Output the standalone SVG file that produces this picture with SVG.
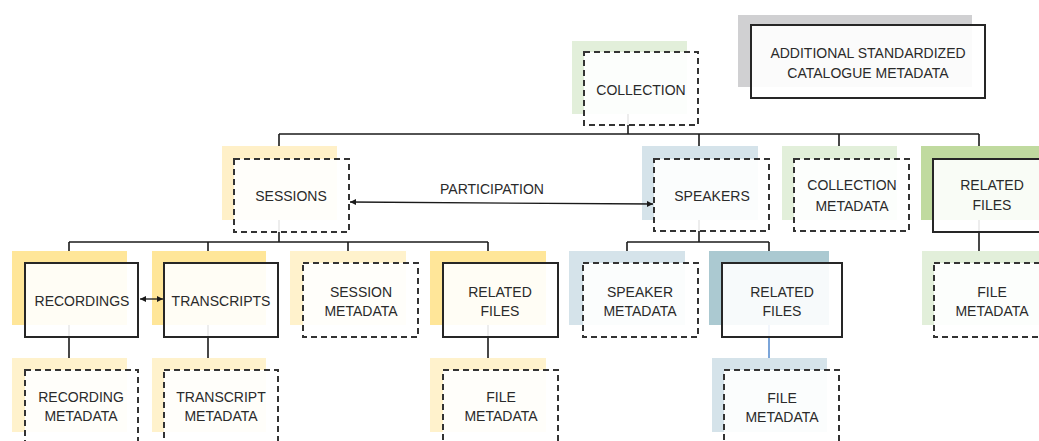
<svg xmlns="http://www.w3.org/2000/svg" width="1039" height="441" viewBox="0 0 1039 441">
  <style>
    .bg{fill:#ffffff}
    .line{fill:none;stroke:#1a1a1a;stroke-width:1.6}
    .blue{fill:none;stroke:#5b8fd0;stroke-width:1.6}
    .box{fill:#ffffff;fill-opacity:0.9;stroke:#262626;stroke-width:2}
    .dash{fill:#ffffff;fill-opacity:0.9;stroke:#333333;stroke-width:2;stroke-dasharray:6 4}
    .lbl{font-family:"Liberation Sans",Arial,sans-serif;font-size:14px;fill:#2a2a2a;text-anchor:middle}
    .y1{fill:#ffe699}
    .y2{fill:#fff2cc}
    .b1{fill:#d5e3ea}
    .b2{fill:#abc9d1}
    .g1{fill:#e2efda}
    .g2{fill:#c0da9f}
    .gr{fill:#d0d0d2}
  </style>
  <defs>
    <marker id="ah" viewBox="0 0 8 8" refX="8" refY="4" markerWidth="6" markerHeight="6" markerUnits="userSpaceOnUse" orient="auto-start-reverse">
      <path d="M0,0 L8,4 L0,8 Z" fill="#1a1a1a"/>
    </marker>
  </defs>
  <rect class="bg" x="0" y="0" width="1039" height="441"/>

  <g id="connectors">
    <path class="line" d="M628,77 V134"/>
    <path class="line" d="M279,134 H979"/>
    <path class="line" d="M279,134 V242"/>
    <path class="line" d="M699,134 V242"/>
    <path class="line" d="M839,134 V183"/>
    <path class="line" d="M979,134 V288"/>
    <path class="line" d="M69,242 H488"/>
    <path class="line" d="M69,242 V395"/>
    <path class="line" d="M208,242 V395"/>
    <path class="line" d="M348,242 V288"/>
    <path class="line" d="M488,242 V395"/>
    <path class="line" d="M627,242 H769"/>
    <path class="line" d="M627,242 V288"/>
    <path class="line" d="M769,242 V300"/>
    <path class="blue" d="M769,300 V395"/>
  </g>

  <g id="additional">
    <rect class="gr" x="738" y="15" width="234" height="72"/>
    <rect class="box" x="751" y="25" width="234" height="73"/>
    <text class="lbl" x="868" y="58">ADDITIONAL STANDARDIZED</text>
    <text class="lbl" x="868" y="78">CATALOGUE METADATA</text>
  </g>

  <g id="collection">
    <rect class="g1" x="572" y="41" width="115" height="73"/>
    <rect class="dash" x="584" y="52" width="114" height="73"/>
    <text class="lbl" x="641" y="95">COLLECTION</text>
  </g>

  <g id="sessions">
    <rect x="222" y="146" width="115" height="74" style="fill:#fff0c8"/>
    <rect class="dash" x="234" y="159" width="115" height="73"/>
    <text class="lbl" x="291" y="201">SESSIONS</text>
  </g>

  <g id="speakers">
    <rect class="b1" x="642" y="146" width="116" height="74"/>
    <rect class="dash" x="654" y="159" width="115" height="72"/>
    <text class="lbl" x="712" y="201">SPEAKERS</text>
  </g>

  <g id="participation">
    <path class="line" d="M350,202 L653,204" marker-start="url(#ah)" marker-end="url(#ah)" style="stroke-width:1.3"/>
    <text class="lbl" x="492" y="194">PARTICIPATION</text>
  </g>

  <g id="collection-metadata">
    <rect class="g1" x="782" y="146" width="115" height="74"/>
    <rect class="dash" x="794" y="159" width="115" height="72"/>
    <text class="lbl" x="852" y="190">COLLECTION</text>
    <text class="lbl" x="852" y="211">METADATA</text>
  </g>

  <g id="collection-related-files">
    <rect class="g2" x="921" y="146" width="118" height="74"/>
    <rect class="box" x="933" y="159" width="115" height="73"/>
    <text class="lbl" x="992" y="190">RELATED</text>
    <text class="lbl" x="992" y="210">FILES</text>
  </g>

  <g id="recordings">
    <rect class="y1" x="12" y="251" width="115" height="74"/>
    <rect class="box" x="25" y="263" width="113" height="74"/>
    <text class="lbl" x="82" y="306">RECORDINGS</text>
  </g>

  <g id="transcripts">
    <rect class="y1" x="152" y="251" width="114" height="74"/>
    <rect class="box" x="164" y="263" width="114" height="74"/>
    <text class="lbl" x="221" y="306">TRANSCRIPTS</text>
  </g>

  <g id="rec-trans-link">
    <path class="line" d="M140,299 H163" marker-start="url(#ah)" marker-end="url(#ah)" style="stroke-width:1.3"/>
  </g>

  <g id="session-metadata">
    <rect class="y2" x="290" y="251" width="116" height="74"/>
    <rect class="dash" x="303" y="263" width="115" height="74"/>
    <text class="lbl" x="361" y="297">SESSION</text>
    <text class="lbl" x="361" y="316">METADATA</text>
  </g>

  <g id="session-related-files">
    <rect class="y1" x="430" y="251" width="116" height="74"/>
    <rect class="box" x="443" y="263" width="115" height="74"/>
    <text class="lbl" x="500" y="297">RELATED</text>
    <text class="lbl" x="500" y="316">FILES</text>
  </g>

  <g id="speaker-metadata">
    <rect class="b1" x="569" y="251" width="116" height="74"/>
    <rect class="dash" x="583" y="263" width="115" height="74"/>
    <text class="lbl" x="640" y="297">SPEAKER</text>
    <text class="lbl" x="640" y="316">METADATA</text>
  </g>

  <g id="speaker-related-files">
    <rect class="b2" x="709" y="251" width="120" height="74"/>
    <rect class="box" x="722" y="263" width="120" height="74"/>
    <text class="lbl" x="782" y="297">RELATED</text>
    <text class="lbl" x="782" y="316">FILES</text>
  </g>

  <g id="collection-file-metadata">
    <rect class="g1" x="922" y="251" width="117" height="74"/>
    <rect class="dash" x="934" y="263" width="115" height="74"/>
    <text class="lbl" x="992" y="297">FILE</text>
    <text class="lbl" x="992" y="316">METADATA</text>
  </g>

  <g id="recording-metadata">
    <rect class="y2" x="12" y="358" width="115" height="74"/>
    <rect class="dash" x="25" y="370" width="113" height="80"/>
    <text class="lbl" x="81" y="402">RECORDING</text>
    <text class="lbl" x="81" y="421">METADATA</text>
  </g>

  <g id="transcript-metadata">
    <rect class="y2" x="152" y="358" width="114" height="74"/>
    <rect class="dash" x="164" y="370" width="114" height="80"/>
    <text class="lbl" x="221" y="402">TRANSCRIPT</text>
    <text class="lbl" x="221" y="421">METADATA</text>
  </g>

  <g id="session-file-metadata">
    <rect class="y2" x="430" y="358" width="116" height="74"/>
    <rect class="dash" x="443" y="370" width="115" height="80"/>
    <text class="lbl" x="501" y="402">FILE</text>
    <text class="lbl" x="501" y="421">METADATA</text>
  </g>

  <g id="speaker-file-metadata">
    <rect class="b1" x="712" y="358" width="115" height="74"/>
    <rect class="dash" x="724" y="370" width="115" height="80"/>
    <text class="lbl" x="782" y="403">FILE</text>
    <text class="lbl" x="782" y="422">METADATA</text>
  </g>
</svg>
